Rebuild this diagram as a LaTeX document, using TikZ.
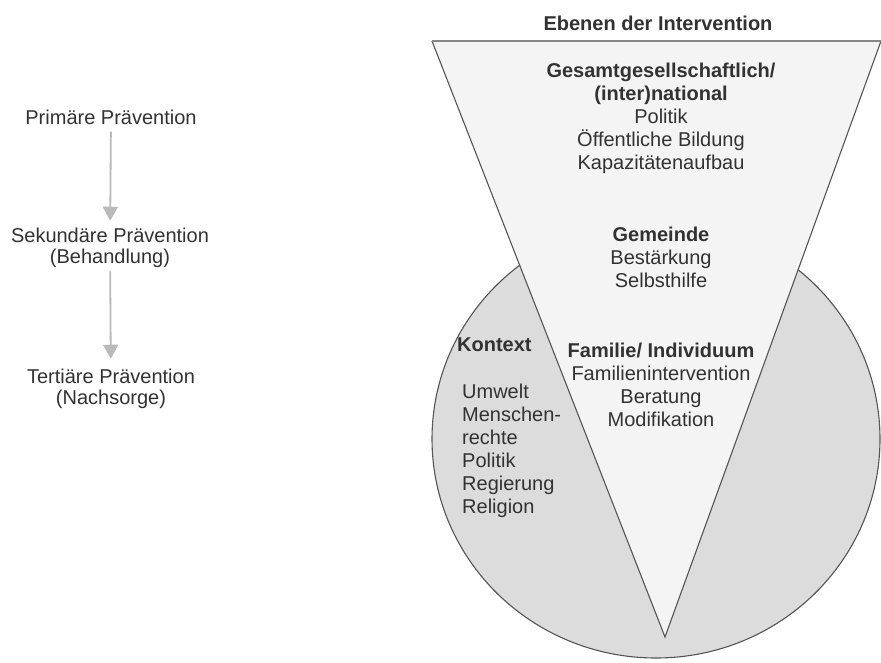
\documentclass[tikz,border=0pt]{standalone}
\usepackage{fontspec}
\setmainfont{Liberation Sans}
\usetikzlibrary{arrows.meta,positioning}
\definecolor{ringcol}{RGB}{220,220,220}
\definecolor{conecol}{RGB}{244,244,244}
\definecolor{edgecol}{RGB}{85,85,85}
\definecolor{rimcol}{RGB}{135,135,135}
\definecolor{arrcol}{RGB}{185,185,185}
\definecolor{txtcol}{RGB}{50,50,50}

\begin{document}
\begin{tikzpicture}[
  x=1pt, y=-1pt,
  txt/.style={font=\fontsize{20}{23}\selectfont, text=txtcol,
              align=center, inner sep=0pt},
  steptxt/.style={txt, font=\fontsize{20}{21.5}\selectfont},
  ltxt/.style={txt, align=left, anchor=west},
  arr/.style={-{Triangle[width=15pt,length=14pt]}, line width=1.8pt,
              draw=arrcol, shorten <=7pt, shorten >=7pt},
  cone/.style={draw=edgecol, line width=1.1pt, line join=miter},
]
\useasboundingbox (0,0) rectangle (881,662);

%% Context circle behind the cone
\filldraw[fill=ringcol, draw=edgecol, line width=1.1pt]
  (656,439) ellipse [x radius=224pt, y radius=219pt];

%% Cone of intervention levels
\coordinate (tl) at (432,41);
\coordinate (tr) at (881,41);
\coordinate (tip) at (665,637);
\fill[conecol] (tl) -- (tr) -- (tip) -- cycle;
\draw[cone] (tr) -- (tip) -- (tl);
\draw[rimcol, line width=2pt] (tl) -- (tr);

%% Prevention steps (left column)
\node[steptxt] (prim) at (111,117) {Primäre Prävention};
\node[steptxt] (sek)  at (110,248) {Sekundäre Prävention\\(Behandlung)};
\node[steptxt] (tert) at (111,389) {Tertiäre Prävention\\(Nachsorge)};

\draw[arr] (prim) -- (sek);
\draw[arr, shorten <=3pt, shorten >=10pt] (sek) -- (tert);

%% Levels inside the cone
\node[txt, font=\bfseries\fontsize{20}{23}\selectfont] (ebenen) at (658,23)
  {Ebenen der Intervention};
\node[txt] (gesamt) at (661,118)
  {\textbf{Gesamtgesellschaftlich/}\\\textbf{(inter)national}\\Politik\\
   Öffentliche Bildung\\Kapazitätenaufbau};
\node[txt] (gemeinde) at (661,257)
  {\textbf{Gemeinde}\\Bestärkung\\Selbsthilfe};
\node[txt] (familie) at (661,385)
  {\textbf{Familie/ Individuum}\\Familienintervention\\Beratung\\Modifikation};

%% Context
\node[ltxt, font=\bfseries\fontsize{20}{23}\selectfont] (kontext) at (457,345)
  {Kontext};
\node[ltxt] (kontextlist) at (462,451)
  {Umwelt\\Menschen-\\rechte\\Politik\\Regierung\\Religion};

\end{tikzpicture}
\end{document}
